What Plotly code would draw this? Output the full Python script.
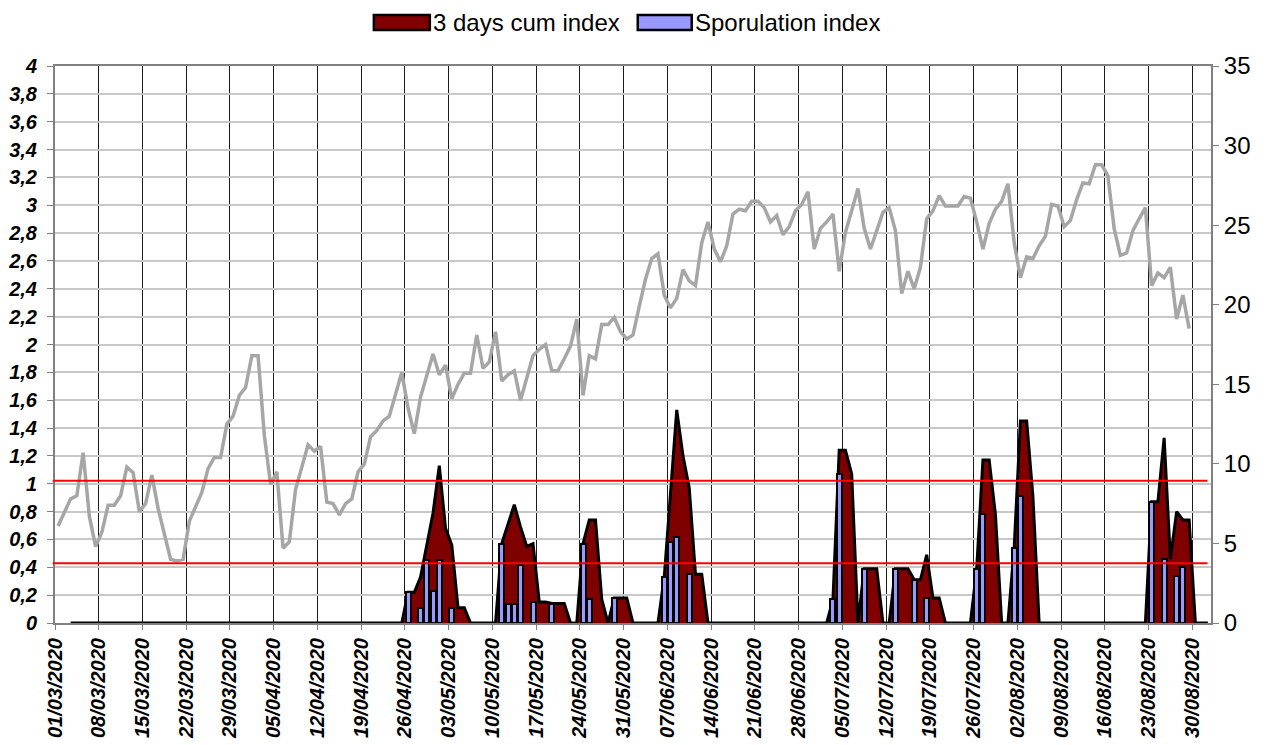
import pandas as pd
import plotly.graph_objects as go

# ---------------- data ----------------
# daily air temperature (right axis), from 01/03/2020
temp_start = "2020-03-01"
temperature = [
    6.1, 7.0, 7.8, 8.0, 10.7, 6.7, 4.8, 5.7, 7.4, 7.4,
    8.0, 9.8, 9.45, 7.0, 7.5, 9.3, 7.2, 5.6, 4.0, 3.9,
    4.0, 6.4, 7.3, 8.2, 9.7, 10.4, 10.4, 12.5, 13.0, 14.3,
    14.8, 16.8, 16.8, 11.8, 8.7, 9.5, 4.7, 5.1, 8.4, 9.8,
    11.2, 10.8, 11.1, 7.6, 7.5, 6.8, 7.5, 7.8, 9.5, 10.0,
    11.7, 12.1, 12.7, 13.0, 14.3, 15.75, 13.5, 11.9, 14.2, 15.5,
    16.9, 15.6, 16.2, 14.1, 15.0, 15.7, 15.7, 18.1, 16.0, 16.4,
    18.3, 15.2, 15.6, 15.85, 14.0, 15.4, 16.8, 17.2, 17.5, 15.85,
    15.85, 16.6, 17.4, 19.1, 14.3, 16.8, 16.6, 18.75, 18.75, 19.2,
    18.3, 17.85, 18.1, 19.9, 21.6, 22.9, 23.2, 20.6, 19.8, 20.4,
    22.2, 21.5, 21.2, 23.9, 25.2, 23.5, 22.7, 23.7, 25.7, 26.0,
    25.9, 26.5, 26.5, 26.1, 25.2, 25.6, 24.4, 24.9, 25.9, 26.3,
    27.1, 23.5, 24.8, 25.2, 25.7, 22.1, 24.55, 25.9, 27.3, 24.8,
    23.5, 24.65, 25.8, 26.1, 24.65, 20.7, 22.1, 21.0, 22.35, 25.4,
    25.9, 26.85, 26.2, 26.2, 26.2, 26.8, 26.7, 25.2, 23.5, 25.1,
    26.0, 26.5, 27.6, 23.9, 21.7, 23.0, 22.9, 23.7, 24.3, 26.3,
    26.2, 24.9, 25.3, 26.6, 27.65, 27.6, 28.8, 28.8, 28.1, 24.8,
    23.1, 23.25, 24.65, 25.4, 26.1, 21.2, 22.0, 21.7, 22.35, 19.1,
    20.6, 18.5,
]

# 3 days cumulated index (left axis), daily from 03/03/2020
cum_start = "2020-03-03"
cum_index = [
    0, 0, 0, 0, 0, 0, 0, 0, 0, 0,
    0, 0, 0, 0, 0, 0, 0, 0, 0, 0,
    0, 0, 0, 0, 0, 0, 0, 0, 0, 0,
    0, 0, 0, 0, 0, 0, 0, 0, 0, 0,
    0, 0, 0, 0, 0, 0, 0, 0, 0, 0,
    0, 0, 0, 0,
    0.22, 0.22, 0.33, 0.56, 0.79, 1.13, 0.68, 0.56, 0.11, 0.11,
    0, 0, 0, 0, 0,
    0.57, 0.71, 0.85, 0.69, 0.55, 0.57, 0.15, 0.15, 0.14, 0.14, 0.14,
    0, 0,
    0.57, 0.74, 0.74, 0.17,
    0,
    0.18, 0.18, 0.18,
    0, 0, 0, 0, 0,
    0.33, 0.91, 1.53, 1.20, 0.97, 0.35, 0.35,
    0, 0, 0, 0, 0, 0, 0, 0, 0, 0,
    0, 0, 0, 0, 0, 0, 0, 0, 0, 0,
    0.17, 1.24, 1.24, 1.07,
    0,
    0.39, 0.39, 0.39,
    0, 0,
    0.39, 0.39, 0.39, 0.31, 0.31, 0.49, 0.18, 0.18,
    0, 0, 0, 0, 0,
    0.39, 1.17, 1.17, 0.78,
    0, 0,
    0.54, 1.45, 1.45, 0.91,
    0, 0, 0, 0, 0, 0, 0, 0, 0, 0,
    0, 0, 0, 0, 0, 0, 0, 0,
    0.87, 0.87, 1.33, 0.46, 0.80, 0.74, 0.74,
    0, 0, 0,
]

# sporulation index (left axis), days with a value
spor_dates = [
    "2020-04-26", "2020-04-28", "2020-04-29", "2020-04-30", "2020-05-01", "2020-05-03",
    "2020-05-11", "2020-05-12", "2020-05-13", "2020-05-14", "2020-05-16", "2020-05-19",
    "2020-05-24", "2020-05-25", "2020-05-29",
    "2020-06-06", "2020-06-07", "2020-06-08", "2020-06-10",
    "2020-07-03", "2020-07-04", "2020-07-08", "2020-07-13", "2020-07-16", "2020-07-18",
    "2020-07-26", "2020-07-27", "2020-08-01", "2020-08-02",
    "2020-08-23", "2020-08-25", "2020-08-27", "2020-08-28",
]
spor_values = [
    0.22, 0.11, 0.45, 0.23, 0.45, 0.11,
    0.57, 0.14, 0.14, 0.42, 0.15, 0.14,
    0.57, 0.17, 0.18,
    0.33, 0.58, 0.62, 0.35,
    0.17, 1.07, 0.39, 0.39, 0.31, 0.18,
    0.39, 0.78, 0.54, 0.91,
    0.87, 0.46, 0.34, 0.40,
]

thresholds = [1.022, 0.429]

legend_names = ["3 days cum index", "Sporulation index"]

# ---------------- layout constants ----------------
# page body has an 8px margin, so the figure is drawn 8px in from the window edge
OFF = 8
W, H = 1282 - OFF, 745 - OFF
PL, PR, PT, PB = 55 - OFF, 1211.5 - OFF, 66 - OFF, 623.5 - OFF
FONT = "Liberation Sans, Arial, sans-serif"
HALF_DAY = pd.Timedelta(hours=12)
DAY_MS = 86400000


def px_x(px):
    return (px - OFF - PL) / (PR - PL)


def px_y(py):
    return (PB - (py - OFF)) / (PB - PT)


temp_x = pd.date_range(temp_start, periods=len(temperature), freq="D") + HALF_DAY
cum_x = pd.date_range(cum_start, periods=len(cum_index), freq="D") + HALF_DAY
spor_x = pd.to_datetime(spor_dates) + HALF_DAY

fig = go.Figure()

fig.add_trace(go.Scatter(
    x=cum_x, y=cum_index, mode="lines", fill="tozeroy",
    fillcolor="#800000", line=dict(color="black", width=3),
    name=legend_names[0], showlegend=False, yaxis="y",
))
fig.add_trace(go.Scatter(
    x=temp_x, y=temperature, mode="lines",
    line=dict(color="#A6A6A6", width=3.5),
    name="temperature", showlegend=False, yaxis="y2",
))
fig.add_trace(go.Bar(
    x=spor_x, y=spor_values, width=0.8 * DAY_MS,
    marker=dict(color="#9999FF", line=dict(color="black", width=2)),
    name=legend_names[1], showlegend=False, yaxis="y3",
))

shapes = []
for t in thresholds:
    shapes.append(dict(type="line", xref="paper", yref="y", x0=-0.002, x1=0.997,
                       y0=t, y1=t, line=dict(color="#FF0000", width=2), layer="above"))

# custom legend (positions in window pixels)
legend_items = [
    (374, 430, "#800000", legend_names[0]),
    (638, 692, "#9999FF", legend_names[1]),
]
annotations = []
for x0, x1, col, label in legend_items:
    shapes.append(dict(type="rect", xref="paper", yref="paper",
                       x0=px_x(x0), x1=px_x(x1), y0=px_y(30), y1=px_y(15),
                       fillcolor=col, line=dict(color="black", width=2.5)))
    annotations.append(dict(xref="paper", yref="paper", x=px_x(x1 + 1), y=px_y(22.5),
                            xanchor="left", yanchor="middle", showarrow=False,
                            text=label, font=dict(family=FONT, size=24, color="black")))

fig.update_layout(
    width=W, height=H,
    margin=dict(l=PL, r=W - PR, t=PT, b=H - PB, pad=0),
    paper_bgcolor="white", plot_bgcolor="white",
    separators=", ",
    showlegend=False,
    bargap=0,
    shapes=shapes,
    annotations=annotations,
    xaxis=dict(
        type="date",
        range=["2020-03-01", "2020-09-02"],
        tick0="2020-03-01", dtick=7 * DAY_MS,
        tickformat="%d/%m/%Y", tickangle=-90,
        tickfont=dict(family=FONT, size=20, color="black", weight="bold", style="italic"),
        showgrid=True, gridcolor="#1a1a1a", gridwidth=1,
        showline=True, linecolor="#808080", linewidth=2, mirror=True,
        ticks="outside", ticklen=5, tickcolor="#808080",
        automargin=False, zeroline=False,
    ),
    yaxis=dict(
        range=[0, 4], dtick=0.2, tick0=0,
        tickfont=dict(family=FONT, size=20, color="black", weight="bold", style="italic"),
        showgrid=True, gridcolor="#C8C8C8", gridwidth=1.5,
        showline=True, linecolor="#808080", linewidth=2,
        ticks="outside", ticklen=6, tickcolor="#808080",
        zeroline=False, automargin=False, ticklabelstandoff=6,
    ),
    yaxis2=dict(
        overlaying="y", side="right",
        range=[0, 35], dtick=5, tick0=0,
        tickfont=dict(family=FONT, size=24, color="black"),
        showgrid=False, zeroline=False,
        showline=True, linecolor="#808080", linewidth=2,
        ticks="outside", ticklen=6, tickcolor="#808080",
        automargin=False,
    ),
    yaxis3=dict(
        overlaying="y", range=[0, 4], visible=False, showgrid=False, zeroline=False,
    ),
)

fig.write_html("out.html")
